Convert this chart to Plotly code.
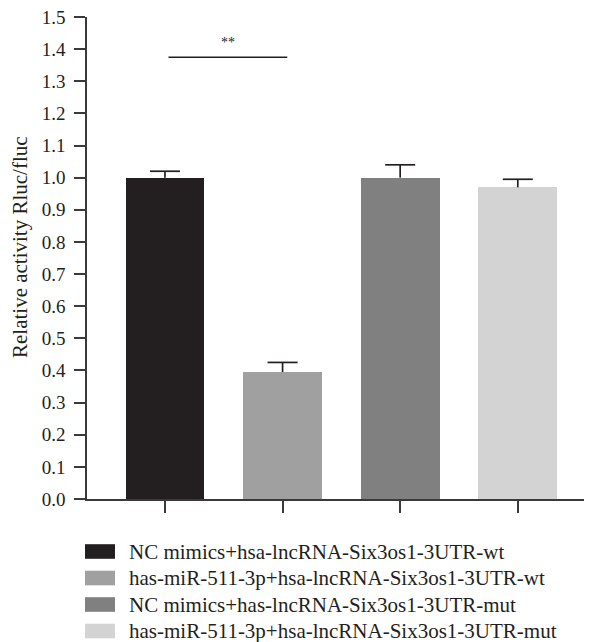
import plotly.graph_objects as go

categories = [
    "NC mimics+hsa-lncRNA-Six3os1-3UTR-wt",
    "has-miR-511-3p+hsa-lncRNA-Six3os1-3UTR-wt",
    "NC mimics+has-lncRNA-Six3os1-3UTR-mut",
    "has-miR-511-3p+hsa-lncRNA-Six3os1-3UTR-mut",
]
values = [1.0, 0.395, 1.0, 0.97]
errors = [0.02, 0.03, 0.04, 0.025]
colors = ["#231f20", "#a0a0a0", "#808080", "#d3d3d3"]
y_ticks = [round(i * 0.1, 1) for i in range(16)]
sig_pair = (0, 1)
sig_level = 1.375
sig_label = "**"

# page body has an 8px margin; lay out in target-page pixels and shift
OFF = 8
W, H = 592 - OFF, 642 - OFF
L, R, T, B = 87 - OFF, 0, 17 - OFF, 143
PW, PH = W - L - R, H - T - B
FONT = "Liberation Serif"
TXT = "#231f20"
XRANGE = [-0.663, 3.631]
CAP_HALF = 15 / (PW / (XRANGE[1] - XRANGE[0]))  # 15px in category units


def px_x(px):
    return (px - OFF - L) / PW


def px_y(py):
    return (H - B - (py - OFF)) / PH


xs = list(range(len(categories)))

fig = go.Figure()
fig.add_trace(go.Bar(
    x=xs, y=values, width=0.67,
    marker=dict(color=colors, line=dict(width=0)),
    showlegend=False, hoverinfo="skip",
))

# upward-only error bars (stem + top cap), built from values/errors
ex, ey = [], []
for xi, v, e in zip(xs, values, errors):
    ex += [xi, xi, None, xi - CAP_HALF, xi + CAP_HALF, None]
    ey += [v, v + e, None, v + e, v + e, None]
fig.add_trace(go.Scatter(x=ex, y=ey, mode="lines",
                         line=dict(color=TXT, width=1.7),
                         showlegend=False, hoverinfo="skip"))

# significance bracket
fig.add_shape(type="line", xref="x", yref="y",
              x0=sig_pair[0] + 0.03, x1=sig_pair[1] + 0.04,
              y0=sig_level, y1=sig_level,
              line=dict(color=TXT, width=1.5))
fig.add_annotation(xref="x", yref="y", x=(sig_pair[0] + sig_pair[1]) / 2 + 0.035,
                   y=sig_level + 0.045, text=sig_label, showarrow=False,
                   font=dict(family=FONT, size=14, color=TXT),
                   yanchor="middle")

# manual legend
row_centers = [551.5, 578, 604.5, 631]
for cat, col, cy in zip(categories, colors, row_centers):
    fig.add_shape(type="rect", xref="paper", yref="paper",
                  x0=px_x(85), x1=px_x(115), y0=px_y(cy + 7.3), y1=px_y(cy - 7.3),
                  fillcolor=col, line=dict(width=0))
    fig.add_annotation(xref="paper", yref="paper", x=px_x(127), y=px_y(cy),
                       text=cat, showarrow=False, xanchor="left", yanchor="middle",
                       font=dict(family=FONT, size=21, color=TXT))

# y-axis title
fig.add_annotation(xref="paper", yref="paper", x=px_x(20), y=px_y(247),
                   text="Relative activity Rluc/fluc", textangle=-90,
                   showarrow=False, xanchor="center", yanchor="middle",
                   font=dict(family=FONT, size=21, color=TXT))

fig.update_layout(
    width=W, height=H,
    margin=dict(l=L, r=R, t=T, b=B, pad=0),
    paper_bgcolor="white", plot_bgcolor="white",
    font=dict(family=FONT, size=19, color=TXT),
    bargap=0,
)
fig.update_xaxes(range=XRANGE, showgrid=False, zeroline=False,
                 showline=True, linecolor="#3a3a3a", linewidth=1.6,
                 ticks="outside", ticklen=12, tickwidth=1.6, tickcolor="#3a3a3a",
                 tickvals=xs, showticklabels=False)
fig.update_yaxes(range=[0, 1.5], showgrid=False, zeroline=False,
                 showline=True, linecolor="#3a3a3a", linewidth=1.6,
                 ticks="outside", ticklen=11, tickwidth=1.6, tickcolor="#3a3a3a",
                 tickvals=y_ticks, ticktext=[f"{v:.1f}" for v in y_ticks],
                 ticklabelstandoff=5, ticklabeloverflow="allow",
                 tickfont=dict(family=FONT, size=19, color=TXT))

fig.write_html("out.html")
